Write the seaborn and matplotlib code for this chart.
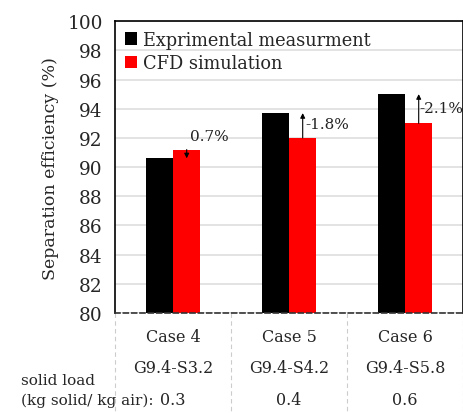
import numpy as np
import pandas as pd
import seaborn as sns
import matplotlib.pyplot as plt
import matplotlib.transforms as mtransforms

cases = ['Case 4', 'Case 5', 'Case 6']
geometry = ['G9.4-S3.2', 'G9.4-S4.2', 'G9.4-S5.8']
solid_load = ['0.3', '0.4', '0.6']
experiment = [90.6, 93.7, 95.0]
cfd = [91.2, 92.0, 93.0]
diff_labels = ['0.7%', '-1.8%', '-2.1%']
series = ['Exprimental measurment', 'CFD simulation']

sns.set_theme(style='white')
plt.rcParams['font.family'] = ['DejaVu Serif']
plt.rcParams['font.size'] = 12

df = pd.DataFrame({
    'case': cases * 2,
    'value': experiment + cfd,
    'series': [series[0]] * 3 + [series[1]] * 3,
})

fig = plt.figure(figsize=(4.64, 4.14), dpi=100)
ax = fig.add_axes([0.248, 0.2415, 0.75, 0.705])

sns.barplot(data=df, x='case', y='value', hue='series', palette=['black', 'red'],
            width=0.47, ax=ax, legend=True, saturation=1, linewidth=0)

ax.set_ylim(80, 100)
ax.set_yticks(np.arange(80, 101, 2))
ax.tick_params(axis='y', labelsize=13.3, length=0, pad=9)
ax.set_xticks([])
ax.set_xlabel('')
ax.set_ylabel('Separation efficiency (%)', fontsize=12.5, labelpad=6)
ax.set_xlim(-0.5, 2.5)

# grid
ax.yaxis.grid(True, color='#dedede', linewidth=1.2)
ax.set_axisbelow(True)
for s in ['top', 'left', 'right']:
    ax.spines[s].set_color('black')
    ax.spines[s].set_linewidth(1.2)
ax.spines['bottom'].set_linestyle((0, (3, 2)))
ax.spines['bottom'].set_color('#333333')
ax.spines['bottom'].set_linewidth(1.2)

# legend
handles, labels = ax.get_legend_handles_labels()
leg = ax.legend(handles, labels, loc='upper left', frameon=False, fontsize=12.8,
                handlelength=0.7, handleheight=0.7, handletextpad=0.3,
                labelspacing=0.3, borderaxespad=0.15, bbox_to_anchor=(0.0, 1.0))

# difference arrows
off = 0.47 / 4
for i in range(3):
    x = i + off
    ax.annotate('', xy=(x, experiment[i]), xytext=(x, cfd[i]),
                arrowprops=dict(arrowstyle='-|>', color='black', lw=0.8,
                                mutation_scale=7, shrinkA=0, shrinkB=0))
txt_pos = [(0 + off + 0.03, 92.1), (1 + off + 0.02, 92.95), (2 + off + 0.005, 94.05)]
for (tx, ty), lab in zip(txt_pos, diff_labels):
    ax.text(tx, ty, lab, fontsize=11, ha='left', va='center', color='#222222')

# table below axis
trans = mtransforms.blended_transform_factory(ax.transData, ax.transAxes)
for i in range(3):
    ax.text(i, -0.08, cases[i], transform=trans, ha='center', va='center', fontsize=11.5)
    ax.text(i, -0.185, geometry[i], transform=trans, ha='center', va='center', fontsize=11.5)
    ax.text(i, -0.295, solid_load[i], transform=trans, ha='center', va='center', fontsize=11.5)
for xb in [-0.5, 0.5, 1.5, 2.5]:
    ax.plot([xb, xb], [0, -0.35], transform=trans, color='#cccccc', lw=0.8,
            linestyle=(0, (4, 3)), clip_on=False)
fig.text(0.045, 0.079, 'solid load', ha='left', va='center', fontsize=11)
fig.text(0.045, 0.033, '(kg solid/ kg air):', ha='left', va='center', fontsize=11)

fig.savefig('out.png', dpi=100)
